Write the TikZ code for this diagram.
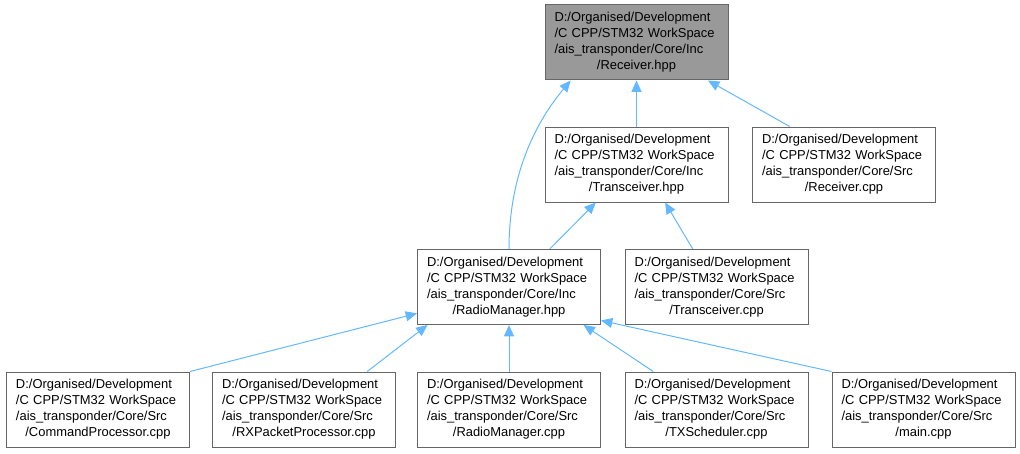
\documentclass[tikz,border=0pt]{standalone}
\usepackage{fontspec}
\setmainfont{Liberation Sans}
\usetikzlibrary{arrows.meta}

\begin{document}
\begin{tikzpicture}[x=0.75pt,y=-0.75pt]

% Colori
\definecolor{colEdge}{HTML}{63B8FF}
\definecolor{colBorder}{HTML}{666666}
\definecolor{colRoot}{HTML}{999999}

% Stili
\tikzset{
  file/.style={draw=colBorder, line width=0.75pt, fill=white,
    minimum width=137.25pt, minimum height=56.25pt, inner sep=0pt,
    text width=123pt, align=left, font=\fontsize{9.7}{12}\selectfont},
  root/.style={file, fill=colRoot},
  dep/.style={colEdge, line width=0.75pt, -{Triangle[length=8.5pt,width=7.5pt]}}
}

% Percorso comune e ultima riga centrata
\def\prj{D:/Organised/Development\\/C~CPP/STM32~WorkSpace\\/ais\_transponder/Core}
\newcommand{\lastln}[1]{\makebox[\hsize]{#1}}

\useasboundingbox (0,0) rectangle (1020,453);

% Livello 0
\node[root] (rcvh) at (636.5,42.5) {\prj/Inc\\\lastln{/Receiver.hpp}};

% Livello 1
\node[file] (trh) at (636.5,164.5) {\prj/Inc\\\lastln{/Transceiver.hpp}};
\node[file] (rcvc) at (844,164.5) {\prj/Src\\\lastln{/Receiver.cpp}};

% Livello 2
\node[file] (rmh) at (509,287) {\prj/Inc\\\lastln{/RadioManager.hpp}};
\node[file] (trc) at (716.5,287) {\prj/Src\\\lastln{/Transceiver.cpp}};

% Livello 3
\node[file] (cmd) at (98,409.5) {\prj/Src\\\lastln{/CommandProcessor.cpp}};
\node[file] (rxp) at (304,409.5) {\prj/Src\\\lastln{/RXPacketProcessor.cpp}};
\node[file] (rmc) at (509,409.5) {\prj/Src\\\lastln{/RadioManager.cpp}};
\node[file] (txs) at (716.5,409.5) {\prj/Src\\\lastln{/TXScheduler.cpp}};
\node[file] (mainc) at (923.5,409.5) {\prj/Src\\\lastln{/main.cpp}};

% Dipendenze
\draw[dep] (rmh.north) .. controls +(0,-80) and +(-31,37) .. (rcvh.210);
\draw[dep] (trh.north) -- (rcvh.south);
\draw[dep] (rcvc.145) -- (rcvh.-28);

\draw[dep] (rmh.43.5) -- (trh.223.5);
\draw[dep] (trc.122) -- (trh.-53);

\draw[dep] (cmd.north east) -- (rmh.196);
\draw[dep] (rxp.31) -- (rmh.205.5);
\draw[dep] (rmc.north) -- (rmh.south);
\draw[dep] (txs.149.5) -- (rmh.-27.5);
\draw[dep] (mainc.north west) -- (rmh.-20);

\end{tikzpicture}
\end{document}
